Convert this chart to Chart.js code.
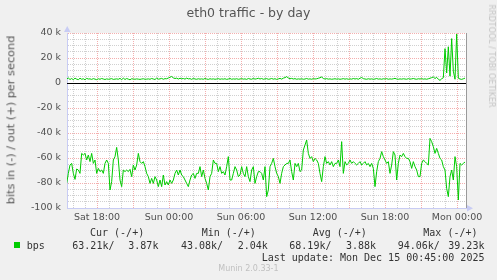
<!DOCTYPE html>
<html>
<head>
<meta charset="utf-8">
<title>eth0 traffic - by day</title>
<script src="https://cdn.jsdelivr.net/npm/chart.js@4.4.1/dist/chart.umd.min.js"></script>
<style>
  html, body { margin: 0; padding: 0; background: #f0f0f0; }
  #wrap { position: relative; width: 497px; height: 280px; overflow: hidden; font-family: 'DejaVu Sans', sans-serif; }
  #wrap canvas { position: absolute; left: 0; top: 0; }
  .t { position: absolute; white-space: pre; line-height: 1; }
  .mono { font-family: 'DejaVu Sans Mono', monospace; font-size: 10px; color: #333; }
</style>
</head>
<body>
<div id="wrap">
  <canvas id="traffic" width="497" height="280"></canvas>
  <div class="t" style="left:0;width:497px;text-align:center;top:7px;font-size:12.5px;color:#555;">eth0 traffic - by day</div>
  <div class="t" style="left:10.8px;top:119.7px;font-size:11.3px;color:#555;transform:translate(-50%,-50%) rotate(-90deg);">bits in (-) / out (+) per second</div>
  <div class="t" style="left:491px;top:56px;font-size:8px;color:#c4c4c4;transform:translate(-50%,-50%) rotate(90deg);">RRDTOOL / TOBI OETIKER</div>

  <div class="t mono" style="left:90px;top:228px;">Cur (-/+)</div>
  <div class="t mono" style="left:201.7px;top:228px;">Min (-/+)</div>
  <div class="t mono" style="left:312.7px;top:228px;">Avg (-/+)</div>
  <div class="t mono" style="left:423.3px;top:228px;">Max (-/+)</div>

  <div style="position:absolute;left:14px;top:242px;width:6px;height:6px;background:#00cc00;"></div>
  <div class="t mono" style="left:26.7px;top:240.5px;">bps</div>
  <div class="t mono" style="left:72.3px;top:240.5px;">63.21k/</div>
  <div class="t mono" style="left:128.3px;top:240.5px;">3.87k</div>
  <div class="t mono" style="left:181px;top:240.5px;">43.08k/</div>
  <div class="t mono" style="left:237.7px;top:240.5px;">2.04k</div>
  <div class="t mono" style="left:289.3px;top:240.5px;">68.19k/</div>
  <div class="t mono" style="left:346px;top:240.5px;">3.88k</div>
  <div class="t mono" style="left:397.7px;top:240.5px;">94.06k/</div>
  <div class="t mono" style="left:448.3px;top:240.5px;">39.23k</div>

  <div class="t mono" style="left:261.7px;top:252.5px;">Last update: Mon Dec 15 00:45:00 2025</div>
  <div class="t" style="left:218.3px;top:265px;font-size:8px;color:#c0c0c0;">Munin 2.0.33-1</div>
</div>
<script>
// samples are 1/7.2 h apart (hours relative to Mon 00:00)
const startHour = -32.5275;
const stepHour = 1 / 7.2;

// bits per second, in k; "in" drawn below zero
const inTraffic = [
  -80.3,-72.3,-65.6,-64.3,-72.3,-77.1,-68.8,-69.6,-72.3,-56.3,
  -57.6,-56.3,-61.6,-57.6,-62.9,-56.3,-64.3,-61.6,-72.3,-68.3,
  -70.9,-69.6,-72.3,-64.3,-61.6,-64.3,-85.6,-78.9,-61.6,-58.9,
  -51.5,-61.6,-77.6,-82.9,-69.6,-70.9,-69.6,-70.9,-69.1,-74.9,
  -65.6,-69.6,-65.6,-56.3,-62.9,-64.3,-62.9,-66.9,-72.3,-74.9,
  -80.3,-76.3,-80.3,-74.9,-77.6,-82.9,-77.6,-82.9,-73.6,-81.6,
  -78.9,-81.6,-77.6,-80.3,-77.6,-72.3,-69.6,-73.6,-69.6,-73.6,
  -74.9,-77.6,-80.3,-82.9,-77.6,-73.6,-72.3,-76.3,-72.3,-72.3,
  -66.9,-74.9,-69.6,-76.3,-80.3,-85.6,-74.9,-72.3,-61.6,-64.3,
  -64.3,-70.9,-66.9,-72.3,-70.9,-73.6,-66.9,-58.9,-77.6,-77.6,
  -72.3,-66.9,-69.6,-74.9,-73.6,-66.9,-72.3,-74.9,-66.9,
  -74.9,-78.9,-69.6,-66.9,-80.3,-74.9,-70.9,-70.9,-72.3,-77.6,
  -66.9,-90.9,-85.6,-66.9,-64.3,-60.3,-66.9,-72.3,-74.9,-80.3,
  -72.3,-66.9,-65.6,-64.3,-64.3,-61.6,-70.9,-77.6,-64.3,-66.9,
  -64.3,-70.9,-69.6,-53.6,-49.6,-45.6,-56.3,-60.3,-58.9,-62.9,
  -60.3,-61.6,-64.3,-72.3,-78.9,-66.9,-58.9,-64.3,-62.9,-65.6,
  -62.9,-66.9,-64.3,-64.3,-61.6,-66.9,-46.9,-72.3,-62.9,-65.6,
  -64.3,-61.6,-64.3,-62.9,-64.3,-65.6,-64.3,-62.9,-65.6,-64.3,
  -62.9,-65.6,-64.3,-66.9,-64.3,-68.3,-82.9,-70.9,-62.9,-60.3,
  -54.9,-58.9,-61.6,-64.3,-62.9,-72.3,-65.6,-54.9,-57.6,-77.6,
  -64.3,-57.6,-58.9,-56.3,-58.9,-60.3,-60.3,-62.9,-68.3,-62.9,
  -66.9,-69.6,-74.9,-74.9,-64.3,-61.6,-62.9,-64.3,-65.6,-44.3,
  -46.9,-50.9,-56.3,-52.3,-56.3,-60.3,-61.6,-66.9,-69.6,-84.3,
  -90.9,-74.9,-69.6,-77.6,-58.9,-66.9,-93.6,-64.3,-65.6,-64.3,
  -63.2
];

const outTraffic = [
  3.2,4.0,2.8,3.6,2.6,3.9,3.1,2.7,3.8,3.0,
  3.4,2.6,3.7,3.2,3.3,2.9,3.5,3.1,2.7,3.4,
  3.0,3.6,3.2,2.8,3.3,3.0,3.2,3.5,2.9,3.1,
  3.3,3.0,3.7,2.7,3.9,2.8,3.6,3.1,2.6,3.4,
  3.2,3.0,3.3,3.1,2.9,3.2,3.4,3.0,3.1,3.3,
  3.0,3.6,3.2,2.8,3.9,3.1,3.3,3.7,3.0,3.5,
  3.4,4.0,4.6,5.2,4.1,3.6,3.9,3.2,3.8,3.4,
  3.6,3.1,3.9,3.3,3.5,2.9,3.7,3.2,3.0,3.4,
  3.1,3.3,3.0,3.6,3.2,2.9,3.4,3.1,3.3,3.0,
  3.2,3.5,3.0,3.3,3.1,3.4,2.9,3.2,3.6,3.0,
  3.3,3.1,3.4,3.0,3.2,3.5,3.1,3.3,2.9,3.6,
  3.2,3.0,3.7,3.1,3.4,3.8,3.2,3.6,3.0,3.3,
  3.5,3.0,3.2,3.6,3.1,3.4,2.9,3.3,3.7,3.1,
  3.9,4.3,5.1,4.0,3.4,3.7,3.2,3.5,3.0,3.3,
  3.1,3.4,3.0,3.2,3.6,3.1,3.3,3.0,3.5,3.2,
  3.4,3.8,4.2,4.8,3.6,3.2,3.5,3.1,3.3,3.0,
  3.2,3.4,3.1,3.3,3.0,3.2,3.5,3.1,3.4,3.0,
  3.3,3.1,3.6,3.2,3.5,3.0,3.8,4.4,3.5,3.2,
  3.0,3.4,3.1,3.3,3.0,3.2,3.6,3.1,3.3,3.0,
  3.4,3.2,3.5,3.0,3.3,3.1,3.4,3.7,3.2,3.0,
  3.3,3.1,3.4,3.2,3.0,3.5,3.1,3.3,3.6,3.2,
  3.0,3.4,3.2,3.5,3.1,3.3,3.0,3.4,3.8,4.3,
  4.8,3.6,4.5,3.0,2.1,3.4,4.2,27.5,8.0,29.0,
  5.5,35.5,9.5,3.0,39.2,3.8,3.2,2.9,3.4,3.87
];

const timeTickHours = [-30, -24, -18, -12, -6, 0];
const timeTickLabels = ['Sat 18:00', 'Sun 00:00', 'Sun 06:00', 'Sun 12:00', 'Sun 18:00', 'Mon 00:00'];
const yTickValues = [40, 20, 0, -20, -40, -60, -80, -100];
const yTickLabels = ['40 k', '20 k', '0', '-20 k', '-40 k', '-60 k', '-80 k', '-100 k'];

const X_MIN = -32.5, X_MAX = 0.75;
const MAJOR = 'rgba(235,110,110,0.55)';
const MINOR = 'rgba(150,150,150,0.45)';
const AXIS = '#c8ccf4';

const toPoints = arr => arr.map((v, i) => ({ x: startHour + i * stepHour, y: v }));

// white plot area, zero rule, right frame and the little axis arrows
const muninFrame = {
    id: 'muninFrame',
    beforeDraw(chart) {
        const a = chart.chartArea, ctx = chart.ctx;
        ctx.save();
        ctx.fillStyle = '#ffffff';
        ctx.fillRect(a.left, a.top, a.right - a.left, a.bottom - a.top);
        ctx.restore();
    },
    beforeDatasetsDraw(chart) {
        const a = chart.chartArea, ctx = chart.ctx;
        const y0 = Math.round(chart.scales.y.getPixelForValue(0)) + 0.5;
        ctx.save();
        ctx.strokeStyle = '#000000';
        ctx.lineWidth = 1;
        ctx.beginPath();
        ctx.moveTo(a.left, y0);
        ctx.lineTo(a.right, y0);
        ctx.stroke();
        ctx.restore();
    },
    afterDraw(chart) {
        const a = chart.chartArea, ctx = chart.ctx;
        ctx.save();
        ctx.strokeStyle = '#9a9a9a';
        ctx.lineWidth = 1;
        ctx.beginPath();
        ctx.moveTo(a.right + 0.5, a.top);
        ctx.lineTo(a.right + 0.5, a.bottom);
        ctx.stroke();
        ctx.fillStyle = AXIS;
        ctx.beginPath();
        ctx.moveTo(a.left - 3, a.top - 1);
        ctx.lineTo(a.left + 3.5, a.top - 1);
        ctx.lineTo(a.left + 0.25, a.top - 7);
        ctx.closePath();
        ctx.fill();
        ctx.beginPath();
        ctx.moveTo(a.right + 1, a.bottom - 3);
        ctx.lineTo(a.right + 1, a.bottom + 3.5);
        ctx.lineTo(a.right + 7, a.bottom + 0.25);
        ctx.closePath();
        ctx.fill();
        ctx.restore();
    }
};

Chart.defaults.font.family = "'DejaVu Sans', sans-serif";

new Chart(document.getElementById('traffic'), {
    type: 'line',
    data: {
        datasets: [
            { label: 'in', data: toPoints(inTraffic), borderColor: '#00cc00', borderWidth: 1, pointRadius: 0, tension: 0, fill: false },
            { label: 'out', data: toPoints(outTraffic), borderColor: '#00cc00', borderWidth: 1, pointRadius: 0, tension: 0, fill: false }
        ]
    },
    options: {
        responsive: false,
        animation: false,
        events: [],
        layout: { padding: { left: 0, right: 31, top: 33, bottom: 0 } },
        plugins: { legend: { display: false }, tooltip: { enabled: false } },
        scales: {
            x: {
                type: 'linear',
                min: X_MIN,
                max: X_MAX,
                afterBuildTicks: s => {
                    const t = [];
                    for (let h = -32; h <= 0; h++) t.push({ value: h });
                    s.ticks = t;
                },
                afterFit: s => { s.height = 72; },
                ticks: {
                    autoSkip: false,
                    maxRotation: 0,
                    padding: 4,
                    color: '#505050',
                    font: { size: 9.5 },
                    callback: v => {
                        const i = timeTickHours.indexOf(v);
                        return i >= 0 ? timeTickLabels[i] : '';
                    }
                },
                grid: {
                    drawTicks: false,
                    color: c => (c.tick && c.tick.value % 3 === 0) ? MAJOR : MINOR
                },
                border: { color: AXIS, width: 1, dash: c => c.tick ? [1, 1] : [] }
            },
            y: {
                min: -100,
                max: 40,
                afterBuildTicks: s => {
                    const t = [];
                    for (let v = -100; v <= 40; v += 5) t.push({ value: v });
                    s.ticks = t;
                },
                afterFit: s => { s.width = 67; },
                ticks: {
                    autoSkip: false,
                    padding: 6,
                    color: '#505050',
                    font: { size: 9.5 },
                    callback: v => {
                        const i = yTickValues.indexOf(v);
                        return i >= 0 ? yTickLabels[i] : '';
                    }
                },
                grid: {
                    drawTicks: false,
                    color: c => {
                        if (!c.tick) return MINOR;
                        if (c.tick.value === 0 || c.tick.value === -100) return 'rgba(0,0,0,0)';
                        return c.tick.value % 20 === 0 ? MAJOR : MINOR;
                    }
                },
                border: { color: AXIS, width: 1, dash: c => c.tick ? [1, 1] : [] }
            }
        }
    },
    plugins: [muninFrame]
});
</script>
</body>
</html>
